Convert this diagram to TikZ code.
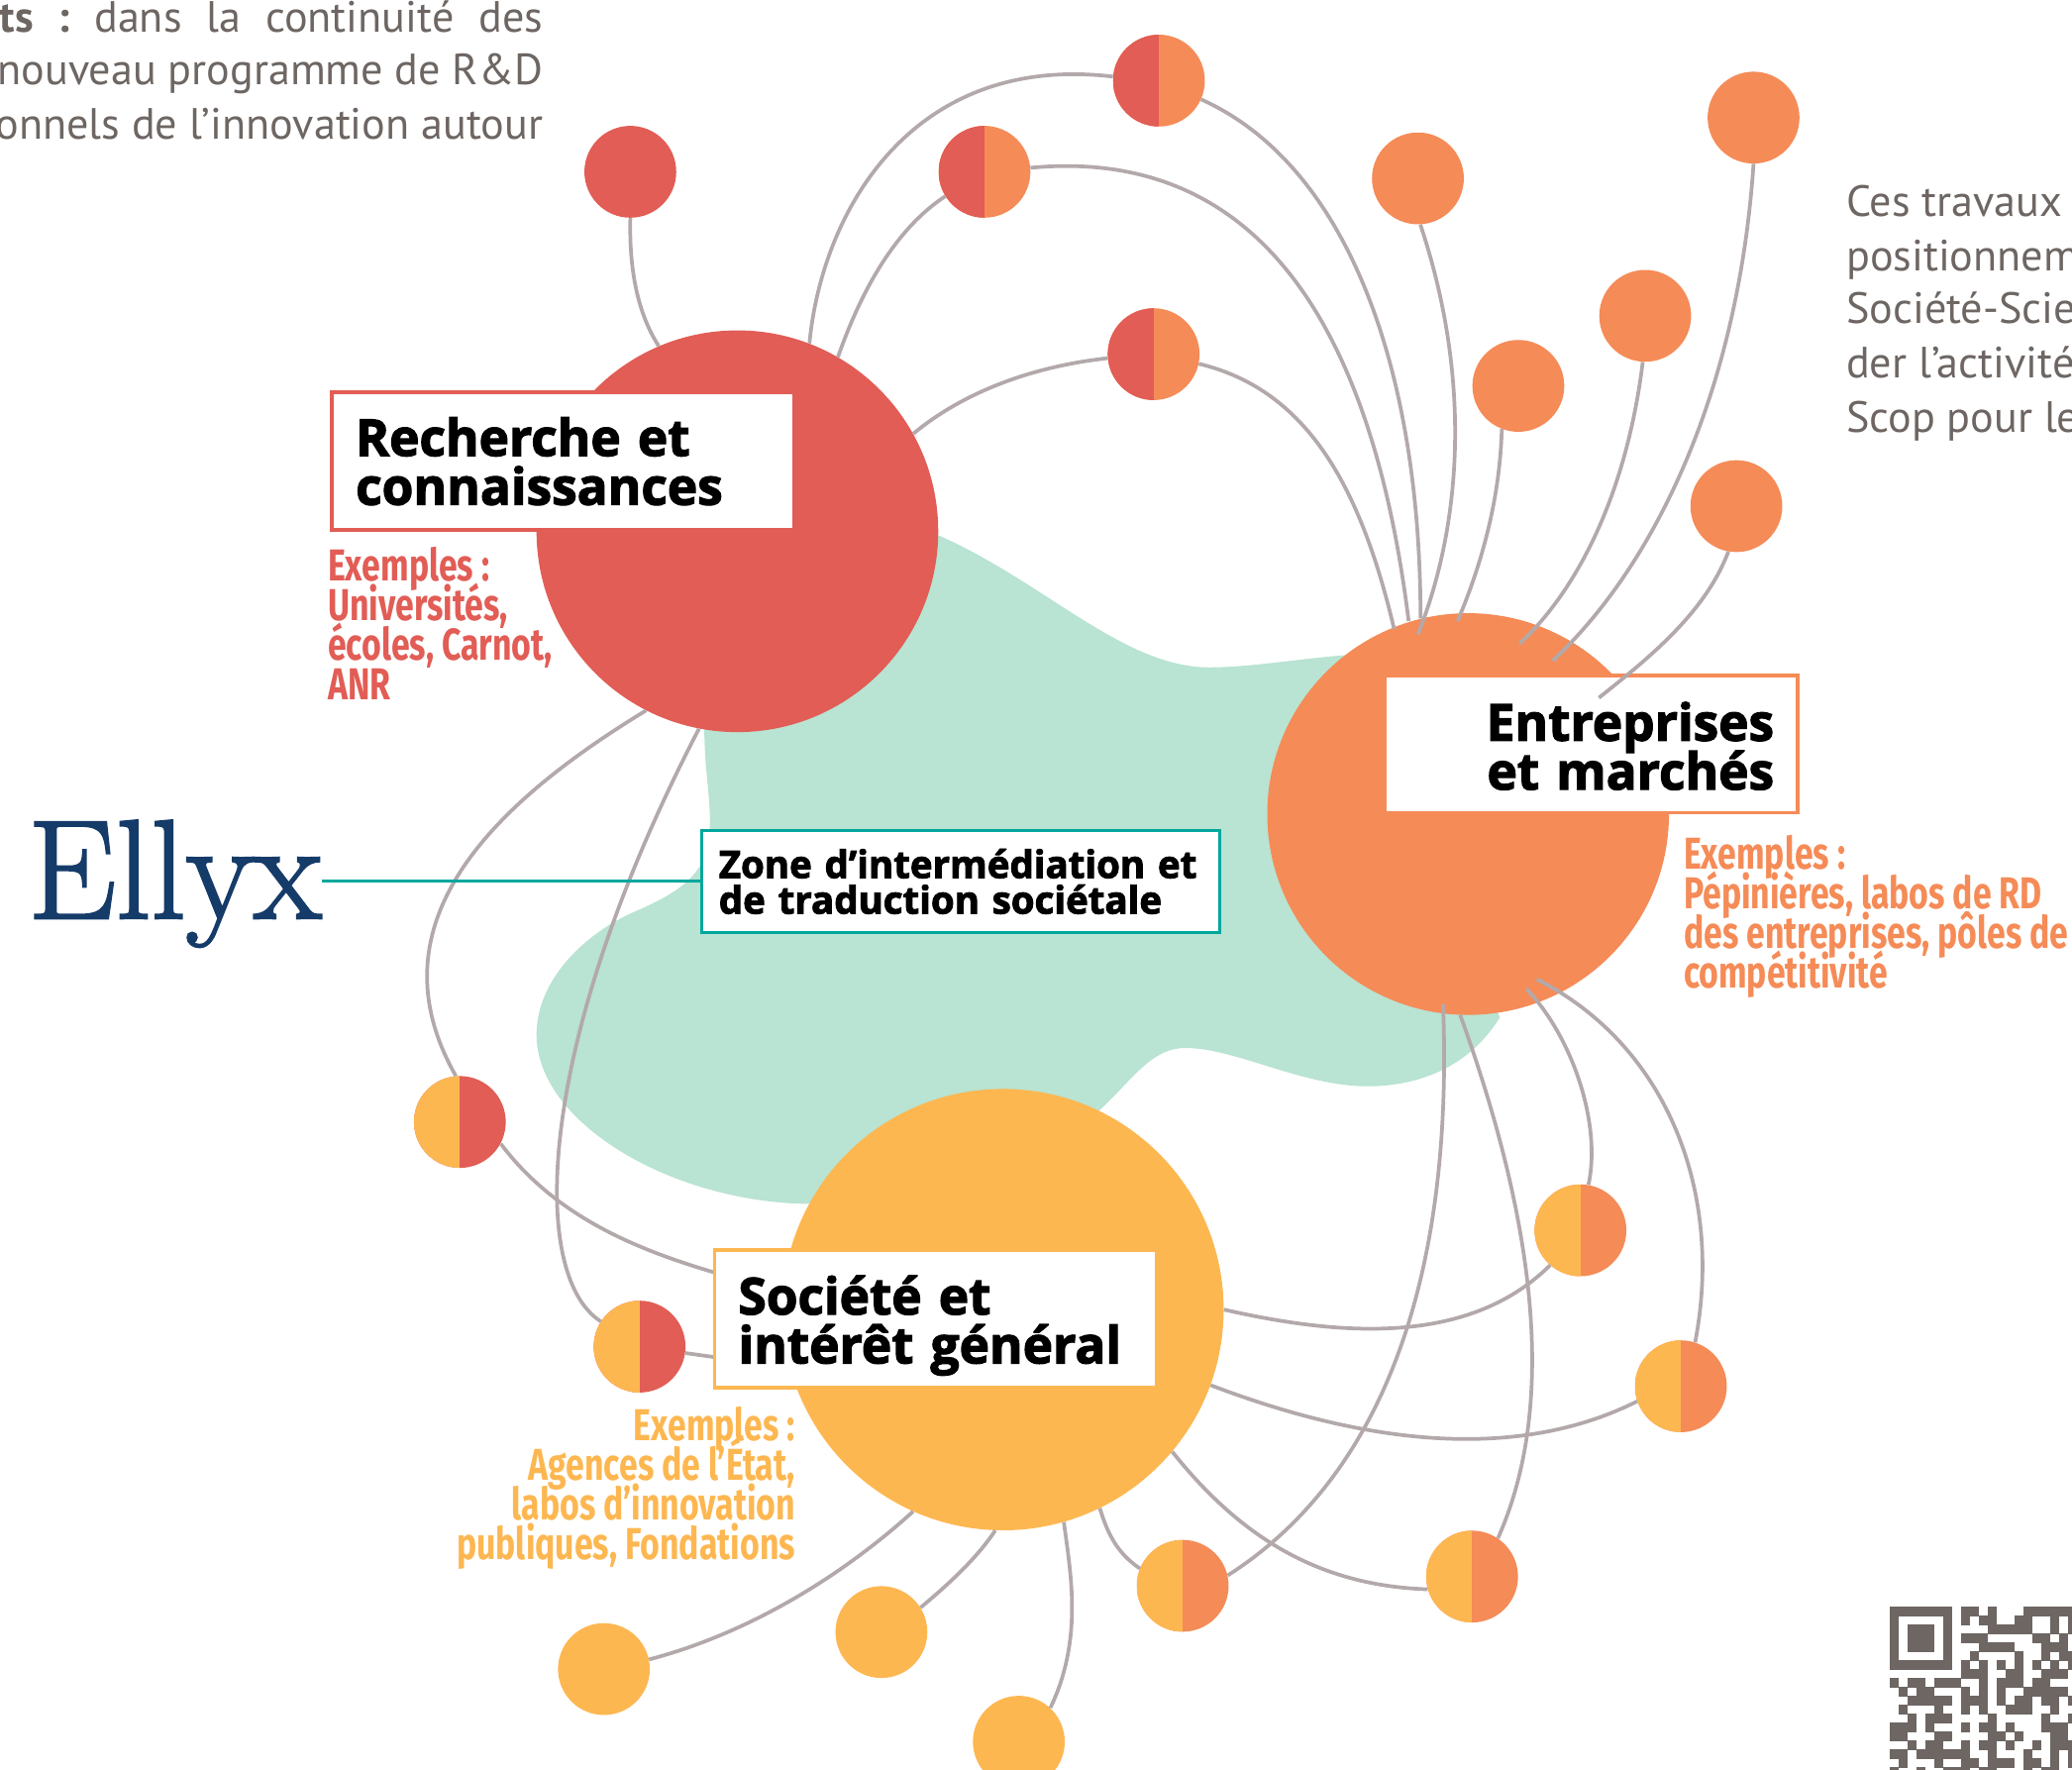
\documentclass[tikz,border=0pt]{standalone}
\usepackage{graphicx}
\usepackage{fontspec}
\usepackage{tikz}
\usetikzlibrary{positioning,calc}
\setmainfont{PT Sans}
\newfontfamily\titlefont{Open Sans}[BoldFeatures={FakeBold=2.4}]
\newfontfamily\exfont{Fira Sans}[FakeStretch=0.75]
\newfontfamily\logofont{Latin Modern Roman}[FakeBold=1.6]
\definecolor{redc}{HTML}{E15D55}
\definecolor{orangec}{HTML}{F58B57}
\definecolor{yellowc}{HTML}{FDB751}
\definecolor{tealc}{HTML}{00A79D}
\definecolor{blobc}{HTML}{B9E3D2}
\definecolor{linkc}{HTML}{B3A9AA}
\definecolor{greyc}{HTML}{6D6662}
\definecolor{navyc}{HTML}{153B69}

\begin{document}
\begin{tikzpicture}[
    x=1pt, y=-1pt,
    bigdot/.style={circle, inner sep=0pt, minimum size=#1},
    dot/.style={circle, inner sep=0pt, minimum size=69.5pt, fill=#1},
    halfdot/.style 2 args={circle, inner sep=0pt, minimum size=69.5pt, fill=#2,
        path picture={\fill[#1] (path picture bounding box.north west) rectangle (path picture bounding box.south);}},
    link/.style={draw=linkc, line width=2.8pt},
    titlebox/.style={draw=#1, line width=2.75pt, fill=white, inner sep=0pt, minimum height=104pt},
    titletext/.style={inner xsep=18pt, inner ysep=0pt,
        font={\titlefont\bfseries\fontsize{38.5}{37}\selectfont\lineskiplimit=-50pt}},
    extext/.style={text=#1, inner sep=0pt, font={\exfont\bfseries\fontsize{33.8}{30}\selectfont\lineskiplimit=-50pt}},
    body/.style={text=greyc, inner sep=0pt, font=\fontsize{33.1}{40.6}\selectfont}
]
    \useasboundingbox (0,0) rectangle (1568,1338.7);

    % zone
    \fill[blobc] (710,405) .. controls (790,440) and (850,505) .. (915,505)
        .. controls (950,505) and (990,497) .. (1030,495) -- (1135,770)
        .. controls (1110,810) and (1070,822) .. (1035,822)
        .. controls (985,822) and (935,793) .. (897,793)
        .. controls (870,793) and (855,820) .. (830,842) -- (615,911)
        .. controls (510,911) and (406,850) .. (406,783)
        .. controls (406,740) and (445,705) .. (480,690)
        .. controls (510,677) and (530,665) .. (536,640)
        .. controls (540,610) and (533,590) .. (533,550) -- cycle;

    % big circles
    \node[bigdot=304pt, fill=redc] (recherche) at (558,402) {};
    \node[bigdot=304pt, fill=orangec] (entreprises) at (1111,616) {};
    \node[bigdot=334pt, fill=yellowc] (societe) at (759,991) {};

    % small circles
    \node[dot=redc] (r1) at (477,130) {};
    \foreach \name/\x/\y in {o1/1073/135, o2/1327/89, o3/1245/239, o4/1149/292, o5/1314/383}
        \node[dot=orangec] (\name) at (\x,\y) {};
    \foreach \name/\x/\y in {y1/457/1263, y2/667/1235, y3/771/1318}
        \node[dot=yellowc] (\name) at (\x,\y) {};
    \foreach \name/\x/\y in {ro1/877/61, ro2/745/130, ro3/873/268}
        \node[halfdot={redc}{orangec}] (\name) at (\x,\y) {};
    \foreach \name/\x/\y in {yr1/348/849, yr2/484/1019}
        \node[halfdot={yellowc}{redc}] (\name) at (\x,\y) {};
    \foreach \name/\x/\y in {yo1/1196/931, yo2/1272/1049, yo3/895/1200, yo4/1114/1193}
        \node[halfdot={yellowc}{orangec}] (\name) at (\x,\y) {};

    % free ends
    \coordinate (e1) at (1055,476);
    \coordinate (e2) at (1066,470);
    \coordinate (e3) at (1075,468);
    \coordinate (e4) at (1073,480);
    \coordinate (e5) at (1103,470);
    \coordinate (e6) at (1150,487);
    \coordinate (e7) at (1175,500);
    \coordinate (e8) at (1210,528);
    \coordinate (e9) at (1092,760);
    \coordinate (e10) at (1105,768);
    \coordinate (e11) at (1155,748);
    \coordinate (e12) at (1163,741);
    \coordinate (e13) at (541,963);
    \coordinate (e14) at (541,1027);

    % connectors
    \draw[link] (r1.south) .. controls (476,205) and (483,238) .. (recherche.113);
    \draw[link] (recherche.69) .. controls (622,160) and (690,40) .. (ro1.175);
    \draw[link] (recherche.60) .. controls (650,225) and (675,175) .. (ro2.-148);
    \draw[link] (recherche.29) .. controls (725,300) and (775,278) .. (ro3.185);
    \draw[link] (ro1.-24) .. controls (1020,125) and (1075,280) .. (e3);
    \draw[link] (ro2.5) .. controls (960,110) and (1040,260) .. (e2);
    \draw[link] (ro3.-12) .. controls (990,295) and (1030,370) .. (e1);
    \draw[link] (o1.-87) .. controls (1115,290) and (1105,400) .. (e4);
    \draw[link] (o4.-111) .. controls (1135,380) and (1120,430) .. (e5);
    \draw[link] (o3.-93) .. controls (1230,380) and (1190,450) .. (e6);
    \draw[link] (o2.south) .. controls (1315,300) and (1250,430) .. (e7);
    \draw[link] (yr1.95) .. controls (280,700) and (370,610) .. (recherche.-117);
    \draw[link] (yr1.-28) .. controls (420,920) and (480,945) .. (e13);
    \draw[link] (yr2.147) .. controls (400,965) and (405,790) .. (recherche.-101);
    \draw[link] (yr2.-8) -- (e14);
    \draw[link] (yo1.80) .. controls (1212,850) and (1190,785) .. (e11);
    \draw[link] (yo2.72) .. controls (1305,900) and (1260,790) .. (e12);
    \draw[link] (yo1.-131) .. controls (1110,1020) and (1010,1010) .. (societe.0);
    \draw[link] (yo2.-161) .. controls (1130,1115) and (1000,1080) .. (societe.-20);
    \draw[link] (yo3.13) .. controls (1050,1115) and (1100,960) .. (e9);
    \draw[link] (yo3.158) .. controls (845,1175) and (838,1160) .. (societe.-64);
    \draw[link] (yo4.-164) .. controls (1000,1200) and (940,1165) .. (societe.-40);
    \draw[link] (yo4.56) .. controls (1180,1060) and (1160,920) .. (e10);
    \draw[link] (y1.12) .. controls (570,1235) and (640,1190) .. (societe.-114);
    \draw[link] (y2.32) .. controls (720,1197) and (740,1178) .. (societe.-92);
    \draw[link] (y3.47) .. controls (820,1240) and (810,1190) .. (societe.-74);

    % boxes
    \node[titlebox=redc, minimum width=349.5pt] (recherchebox) at (426,349) {};
    \node[titletext, align=left, text width=313.5pt] (recherchetext) at (426,349) {Recherche et\\connaissances};
    \node[titlebox=orangec, minimum width=312.5pt] (entreprisesbox) at (1204.2,563) {};
    \node[titletext, align=right, text width=276.5pt] (entreprisestext) at (1204.2,564.5) {Entreprises\\et marchés};
    \node[titlebox=yellowc, minimum width=334.5pt] (societebox) at (708,998) {};
    \node[titletext, align=left, text width=298.5pt] (societetext) at (708,1003) {Société et\\intérêt général};
    \node[draw=tealc, line width=2.5pt, fill=white, align=left, inner xsep=13pt, inner ysep=0pt,
        minimum height=77pt, text width=366pt, font={\titlefont\bfseries\fontsize{28.8}{27}\selectfont\lineskiplimit=-50pt}]
        (zone) at (727,667) {Zone d’intermédiation et\\de traduction sociétale};
    \draw[link] (o5.-100) .. controls (1290,465) and (1245,500) .. (e8);

    % logo
    \node[text=navyc, inner sep=0pt, anchor=base west, font=\logofont\fontsize{107}{107}\selectfont]
        (ellyx) at (21,695) {\scalebox{0.99}[1]{Ellyx}};
    \draw[tealc, line width=2.2pt] (ellyx.east |- zone.west) -- (zone.west);

    % examples
    \node[extext=redc, anchor=north west, align=left] (exrecherche) at (248,414)
        {Exemples :\\Universités,\\écoles, Carnot,\\ANR};
    \node[extext=orangec, anchor=north west, align=left] (exentreprises) at (1274,632)
        {Exemples :\\Pépinières, labos de RD\\des entreprises, pôles de\\compétitivité};
    \node[extext=yellowc, anchor=north east, align=right] (exsociete) at (602,1064)
        {Exemples :\\Agences de l’État,\\labos d’innovation\\publiques, Fondations};

    % paragraphs
    \node[body, anchor=base east] (parag1) at (411,24)
        {\hbox to 411pt{\bfseries ts\hfill:\hfill\mdseries dans\hfill la\hfill continuité\hfill des}};
    \node[body, anchor=base east] (parag2) at (411,64) {nouveau programme de R\&D};
    \node[body, anchor=base east] (parag3) at (411,105) {onnels de l’innovation autour};
    \node[body, anchor=base west] (pard1) at (1397,164) {Ces travaux};
    \node[body, anchor=base west] (pard2) at (1397,205) {positionnem};
    \node[body, anchor=base west] (pard3) at (1397,245) {Société-Scie};
    \node[body, anchor=base west] (pard4) at (1397,286) {der l’activité};
    \node[body, anchor=base west] (pard5) at (1397,327) {Scop pour le};

    % qr code
    \foreach \row/\cols in {
        0/{0,1,2,3,4,5,6,8,9,11,15,16,17,18,19,20},
        1/{0,6,8,10,11,14,15,18,20},
        2/{0,2,3,4,6,11,12,13,14,15,18,20},
        3/{0,2,3,4,6,8,9,10,16,17,19},
        4/{0,2,3,4,6,10,11,12,13,17,18,19},
        5/{0,6,9,14,17,19,20},
        6/{0,1,2,3,4,5,6,8,10,12,14,16,18,20},
        7/{8,9,10,13,14,17,18,19},
        8/{0,2,3,5,6,7,10,12,13,14,16,17},
        9/{1,3,4,8,10,12,15,16,17,18,19},
        10/{2,3,4,5,6,8,9,10,12,14,15,17,18,20},
        11/{1,5,8,10,13,14,15,18},
        12/{2,4,5,6,11,17,20},
        13/{0,1,2,4,8,10,11,13,17,18,19},
        14/{0,1,5,6,11,12,14,18,19},
        15/{2,4,5,8,10,11,13,16,18,19,20},
        16/{0,1,3,4,5,6,7,8,11,15,18,20},
        17/{1,5,8,9,11,12,13,15,16,18,20},
        18/{0,3,6,7,8,10,11,15,17,18}}
        \foreach \col in \cols
            \fill[greyc] (1430+\col*6.745,1216+\row*6.745) rectangle +(6.85,6.85);
\end{tikzpicture}
\end{document}
